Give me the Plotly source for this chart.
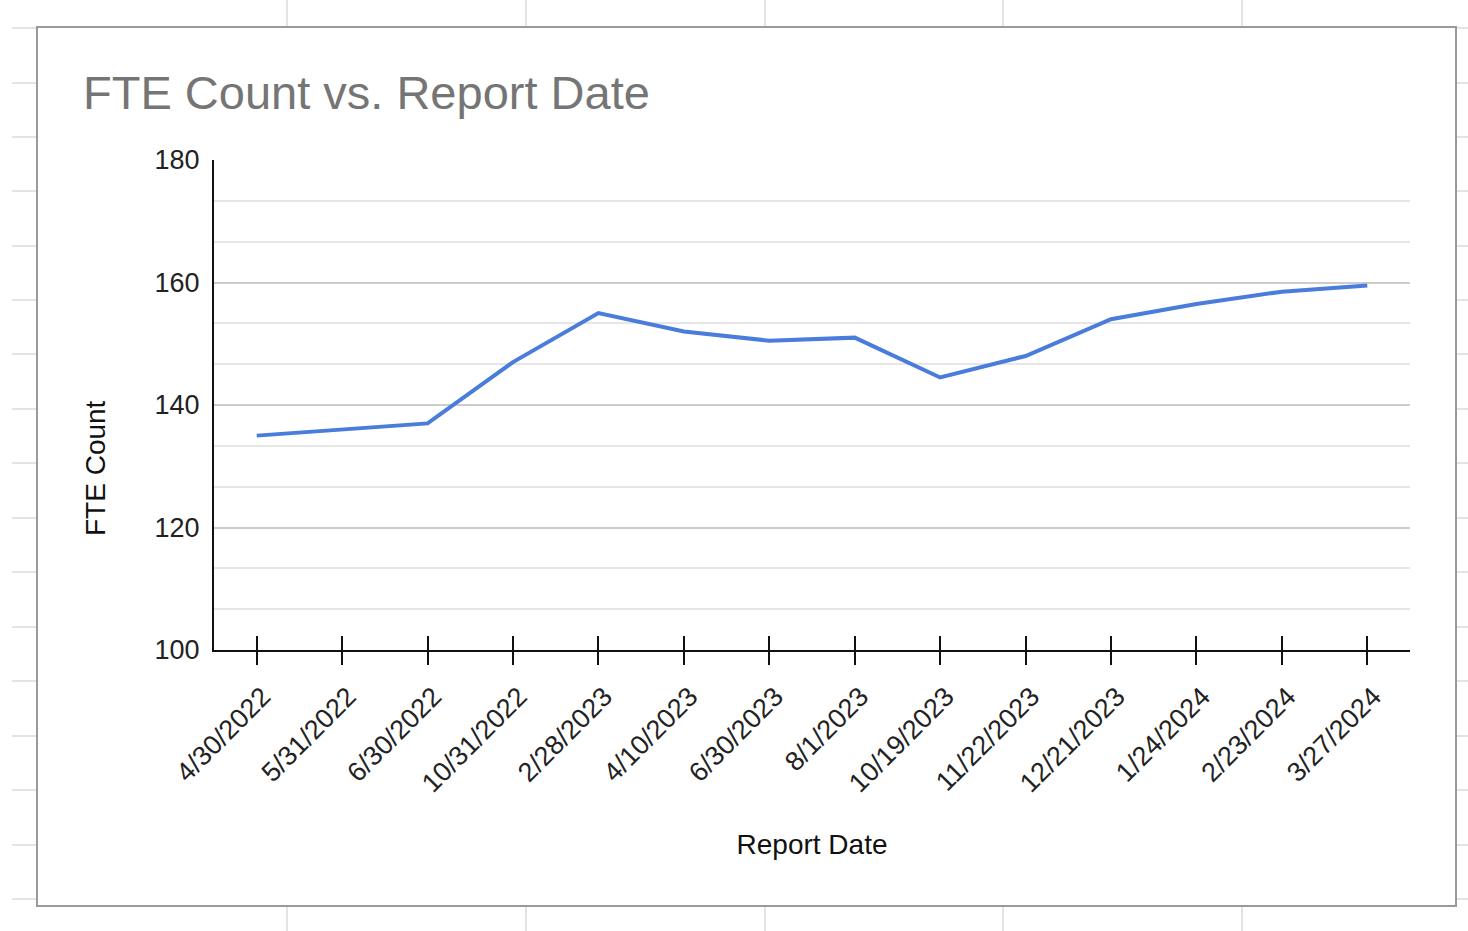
import plotly.graph_objects as go

# ---- data ----
report_dates = ["4/30/2022", "5/31/2022", "6/30/2022", "10/31/2022", "2/28/2023",
                "4/10/2023", "6/30/2023", "8/1/2023", "10/19/2023", "11/22/2023",
                "12/21/2023", "1/24/2024", "2/23/2024", "3/27/2024"]
fte_count = [135, 136, 137, 147, 155, 152, 150.5, 151, 144.5, 148, 154, 156.5, 158.5, 159.5]
y_ticks = [100, 120, 140, 160, 180]

W, H = 1468, 931
L, R, T, B = 214, 58, 160, 281
PW, PH = W - L - R, H - T - B

FONT = "Arial, Liberation Sans, Helvetica, sans-serif"
LINE_COLOR = "#4a7cdc"


def px(xp):
    return (xp - L) / PW


def py(yp):
    return (H - B - yp) / PH


fig = go.Figure()
fig.add_trace(go.Scatter(x=report_dates, y=fte_count, mode="lines",
                         line=dict(color=LINE_COLOR, width=4),
                         showlegend=False, name="FTE Count"))
# invisible helper trace on overlay axis to draw the upward half of crossing ticks
fig.add_trace(go.Scatter(x=report_dates, y=fte_count, mode="lines", xaxis="x2",
                         line=dict(color="rgba(0,0,0,0)", width=0),
                         showlegend=False, hoverinfo="skip"))

shapes = []
# spreadsheet background grid (decorative)
grid_c = "#e3e3e3"
for xv in [287, 526, 765, 1003, 1242]:
    shapes.append(dict(type="line", xref="paper", yref="paper", x0=px(xv), x1=px(xv),
                       y0=py(0), y1=py(27), line=dict(color=grid_c, width=2), layer="below"))
    shapes.append(dict(type="line", xref="paper", yref="paper", x0=px(xv), x1=px(xv),
                       y0=py(906), y1=py(931), line=dict(color=grid_c, width=2), layer="below"))
for yv in [28, 83, 137, 191, 246, 300, 354, 409, 463, 518, 572, 627, 681, 736, 790, 845, 899]:
    shapes.append(dict(type="line", xref="paper", yref="paper", x0=px(12), x1=px(37),
                       y0=py(yv), y1=py(yv), line=dict(color=grid_c, width=2), layer="below"))
    shapes.append(dict(type="line", xref="paper", yref="paper", x0=px(1456), x1=px(1468),
                       y0=py(yv), y1=py(yv), line=dict(color=grid_c, width=2), layer="below"))
# chart border
shapes.append(dict(type="rect", xref="paper", yref="paper", x0=px(37), x1=px(1456),
                   y0=py(906), y1=py(27), line=dict(color="#9a9a9a", width=2),
                   fillcolor="rgba(0,0,0,0)", layer="below"))

fig.update_layout(
    width=W, height=H,
    margin=dict(l=L, r=R, t=T, b=B),
    paper_bgcolor="white", plot_bgcolor="white",
    font=dict(family=FONT, color="#222222"),
    title=dict(text="FTE Count vs. Report Date", xref="container", yref="container",
               x=83 / W, xanchor="left", y=1 - 93 / H, yanchor="middle",
               font=dict(family=FONT, size=47, color="#757575")),
    shapes=shapes,
    annotations=[dict(text="FTE Count", textangle=-90, xref="paper", yref="paper",
                      x=px(95), y=py(468), xanchor="center", yanchor="middle",
                      showarrow=False, font=dict(family=FONT, size=28, color="#111111"))],
    xaxis=dict(type="category", categoryorder="array", categoryarray=report_dates,
               range=[-0.5, len(report_dates) - 0.5],
               showline=True, linecolor="#111111", linewidth=2,
               ticks="outside", ticklen=13, tickwidth=2, tickcolor="#111111",
               tickangle=-45, tickfont=dict(size=27, color="#222222"),
               ticklabelstandoff=5, ticklabelshift=6,
               showgrid=False, zeroline=False,
               title=dict(text="Report Date", font=dict(size=28, color="#111111"), standoff=37)),
    xaxis2=dict(type="category", overlaying="x", matches="x", anchor="y", side="bottom",
                ticks="inside", ticklen=14, tickwidth=2, tickcolor="#111111",
                showticklabels=False, showgrid=False, showline=False, zeroline=False),
    yaxis=dict(range=[100, 180], tickvals=y_ticks,
               showline=True, linecolor="#111111", linewidth=2,
               ticks="", tickfont=dict(size=27, color="#222222"), ticklabelstandoff=7,
               showgrid=True, gridcolor="#cccccc", gridwidth=2, zeroline=False,
               minor=dict(tick0=100, dtick=20 / 3, showgrid=True, gridcolor="#e6e6e6", gridwidth=2)),
)

fig.write_html("out.html", config={"displayModeBar": False},
               post_script="document.body.style.margin='0';document.body.style.overflow='hidden';")
